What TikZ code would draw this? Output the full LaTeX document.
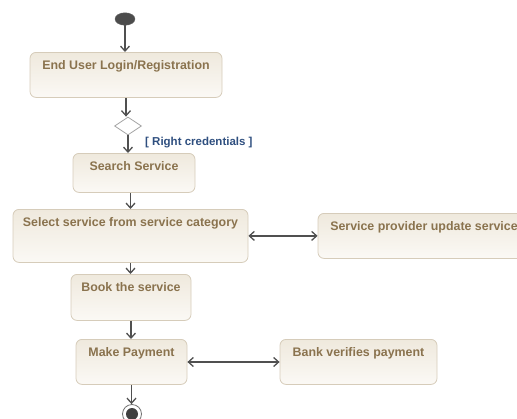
\documentclass[tikz,border=0pt]{standalone}
\usepackage{fontspec}
\setmainfont{Liberation Sans}
\usetikzlibrary{arrows.meta}
\usetikzlibrary{shapes.geometric}

\definecolor{boxTop}{RGB}{239,233,221}
\definecolor{boxBot}{RGB}{251,249,245}
\definecolor{boxLine}{RGB}{214,204,186}
\definecolor{boxText}{RGB}{138,115,78}
\definecolor{guardText}{RGB}{47,79,127}
\definecolor{flowLine}{RGB}{80,80,80}

\begin{document}
\begin{tikzpicture}[
    x=1pt, y=-1pt,
    act/.style={rectangle, rounded corners=6pt, draw=boxLine, line width=0.8pt,
                top color=boxTop, bottom color=boxBot, text=boxText,
                font=\bfseries\fontsize{12.4}{14}\selectfont, anchor=north,
                inner xsep=4pt, inner ysep=5pt, text height=12.5pt},
    flow/.style={draw=flowLine, line width=1.3pt,
                 -{Straight Barb[length=5pt,width=9pt]}},
    both/.style={flow, {Straight Barb[length=5pt,width=9pt]}-{Straight Barb[length=5pt,width=9pt]}},
    ]

    % Determines the boundries
    \path[use as bounding box] (0,0) rectangle (517,418);

    % Positions of the top centers of the activities
    \coordinate (LG) at (126,52);
    \coordinate (SS) at (134,153);
    \coordinate (SC) at (130.5,209);
    \coordinate (PU) at (424,213);
    \coordinate (BK) at (131,274);
    \coordinate (MP) at (131.5,339);
    \coordinate (BV) at (358.5,339);

    % Start, decision and end
    \node[ellipse, fill=black!70, draw=black!60, minimum width=20pt, minimum height=12.5pt, inner sep=0pt] (start) at (125,19) {};
    \node[diamond, draw=black!35, fill=white, line width=0.8pt, minimum width=27pt, minimum height=18pt, inner sep=0pt] (dec) at (128,126) {};
    \node[circle, draw=black!55, fill=white, line width=0.8pt, minimum size=19pt, inner sep=0pt] (stop) at (132,414) {};
    \node[circle, fill=black!75, minimum size=12pt, inner sep=0pt] (stopIn) at (stop) {};

    % The activities
    \node[act, minimum width=192pt, text depth=22.5pt] (login)   at (LG) {End User Login/Registration};
    \node[act, minimum width=122pt, text depth=16.5pt] (search)  at (SS) {Search Service};
    \node[act, minimum width=235pt, text depth=30.5pt] (select)  at (SC) {Select service from service category};
    \node[act, minimum width=212pt, text depth=22.5pt] (provide) at (PU) {Service provider update service};
    \node[act, minimum width=120pt, text depth=23.5pt] (book)    at (BK) {Book the service};
    \node[act, minimum width=111pt, text depth=22.5pt] (pay)     at (MP) {Make Payment};
    \node[act, minimum width=157pt, text depth=22.5pt] (bank)    at (BV) {Bank verifies payment};

    % Guard of the decision
    \node[anchor=west, text=guardText, font=\bfseries\fontsize{11.5}{13}\selectfont, inner sep=0pt] (guard) at (145,143) {[ Right credentials ]};

    % The flows
    \draw[flow] (start) -- (start |- login.north);
    \draw[flow] (login.south) -- (login.south |- dec.north);
    \draw[flow] (dec.south) -- (dec.south |- search.north);
    \draw[flow] (search.south -| select.north) -- (select.north);
    \draw[flow] (select.south) -- (select.south |- book.north);
    \draw[flow] (book.south) -- (book.south |- pay.north);
    \draw[flow] (pay.south) -- (pay.south |- stop.north);

    \draw[both] (select.east |- provide.west) -- (provide.west);
    \draw[both] (pay.east |- 0,362) -- (bank.west |- 0,362);
\end{tikzpicture}
\end{document}
